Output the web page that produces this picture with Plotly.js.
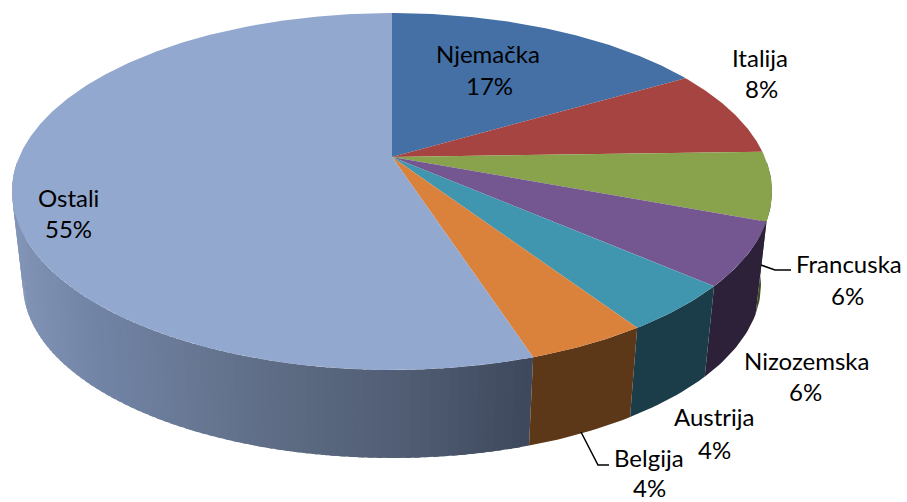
<!DOCTYPE html>
<html><head><meta charset="utf-8">
<script src="https://cdn.plot.ly/plotly-3.0.1.min.js"></script>
<style>html,body{margin:0;padding:0;background:#fff}#c{width:907px;height:502px}</style>
</head><body><div id="c"></div>
<script>
const categories = ["Njemačka","Italija","Francuska","Nizozemska","Austrija","Belgija","Ostali"];
const values = [16.6,7.9,6.2,5.7,4.3,4.3,55.0];
const topColors = ["#4470a6","#a64442","#88a34c","#745690","#4096ae","#da813c","#93a8cf"];
const sideColors = ["#2a4466","#652a29","#3f4d20","#2c2139","#1b3d49","#5c3718",null];
const nameCenters = [[488,53],[760,57],[849,263],[806,360],[714,416],[649,457],[68,197]];
const pctCenters = [[489,85],[761,88],[847,295],[805,391],[714,449],[649,487],[68,228]];
const ostaliShade = [[23,[130,148,182]],[100,[114,132,166]],[200,[103,119,147]],[300,[91,105,129]],[400,[81,94,116]],[528,[62,72,92]]];

// perspective projection of the pie disc
const cx=392, k=0.1933, a=372.8, b=171.8, topY=157, s=0.971, botY=251.2;
function rim(deg, bottom){
  const t=deg*Math.PI/180, u=Math.sin(t), v=Math.cos(t), w=1+k*v;
  return bottom ? [cx+s*a*u/w, botY-s*b*v/w] : [cx+a*u/w, topY-b*v/w];
}
function shade(x){
  const S=ostaliShade;
  if(x<=S[0][0]) return `rgb(${S[0][1].join(",")})`;
  for(let i=1;i<S.length;i++){
    if(x<=S[i][0]){
      const f=(x-S[i-1][0])/(S[i][0]-S[i-1][0]);
      return `rgb(${S[i-1][1].map((c,j)=>Math.round(c+(S[i][1][j]-c)*f)).join(",")})`;
    }
  }
  return `rgb(${S[S.length-1][1].join(",")})`;
}
function poly(pts,color){
  return {type:"scatter",mode:"lines",x:pts.map(p=>p[0]),y:pts.map(p=>p[1]),fill:"toself",fillcolor:color,
    line:{width:0,color:color},hoverinfo:"skip",showlegend:false};
}
const total=values.reduce((p,c)=>p+c,0);
const gradient=[], flat=[], tops=[];
let start=0;
values.forEach((val,i)=>{
  const end=start+val/total*360;
  // top face wedge
  const pts=[[cx,topY]];
  for(let d=start;d<end;d+=0.5) pts.push(rim(d,false));
  pts.push(rim(end,false)); pts.push([cx,topY]);
  tops.push(poly(pts,topColors[i]));
  // visible outer wall
  const from=Math.max(start,92), to=Math.min(end,268);
  if(to>from){
    if(sideColors[i]){
      const w=[];
      for(let d=from;d<to;d+=1) w.push(rim(d,false));
      w.push(rim(to,false));
      for(let d=to;d>from;d-=1) w.push(rim(d,true));
      w.push(rim(from,true));
      flat.push(poly(w,sideColors[i]));
    } else {
      const step=1.2;
      for(let d=from;d<to;d+=step){
        const e=Math.min(d+step*1.6,to);
        const q=[rim(d,false),rim(e,false),rim(e,true),rim(d,true)];
        q.push(q[0]);
        gradient.push(poly(q,shade(rim(d+step/2,true)[0])));
      }
    }
  }
  start=end;
});
const font={family:"Lato, Carlito, sans-serif",size:24,color:"#000"};
const annotations=[];
categories.forEach((c,i)=>{
  annotations.push({text:c,x:nameCenters[i][0],y:nameCenters[i][1],xref:"x",yref:"y",showarrow:false,font,xanchor:"center",yanchor:"middle"});
  annotations.push({text:Math.round(values[i])+"%",x:pctCenters[i][0],y:pctCenters[i][1],xref:"x",yref:"y",showarrow:false,font,xanchor:"center",yanchor:"middle"});
});
const axis={visible:false,fixedrange:true};
Plotly.newPlot("c",[...gradient,...flat,...tops],{
  width:907,height:502,margin:{l:0,r:0,t:0,b:0},paper_bgcolor:"#fff",plot_bgcolor:"#fff",
  xaxis:{...axis,range:[0,907]},yaxis:{...axis,range:[502,0]},
  annotations,
  shapes:[
    {type:"path",path:"M761,265 L775,270 L791,270",xref:"x",yref:"y",line:{color:"#000",width:1.5}},
    {type:"path",path:"M581,432 L598,465 L609,465",xref:"x",yref:"y",line:{color:"#000",width:1.5}}
  ]
},{displayModeBar:false,staticPlot:true});
</script></body></html>
